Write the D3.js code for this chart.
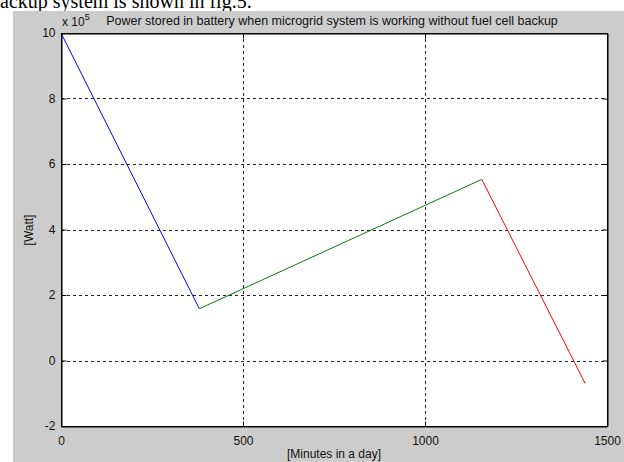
<!DOCTYPE html>
<html><head><meta charset="utf-8">
<script src="https://cdn.jsdelivr.net/npm/d3@7"></script>
<style>html,body{margin:0;padding:0;background:#fff;overflow:hidden}</style>
</head><body>
<svg id="c" width="624" height="462"></svg>
<script>
const xTicks = [0, 500, 1000, 1500];
const yTicks = [-2, 0, 2, 4, 6, 8, 10];
const blueX = [0, 380];
const blueY = [10, 1.58];
const greenX = [380, 1156];
const greenY = [1.58, 5.53];
const redX = [1156, 1440];
const redY = [5.53, -0.70];
const title = "Power stored in battery when microgrid system is working without fuel cell backup";
const xLabel = "[Minutes in a day]";
const yLabel = "[Watt]";
const caption = "backup system is shown in fig.5.";

const svg = d3.select("#c");
const L = 61, R = 607, T = 33, B = 426;
const x = d3.scaleLinear().domain([0, 1500]).range([L, R]);
const y = d3.scaleLinear().domain([-2, 10]).range([B, T]);
const fmt = v => String(v);

svg.append("rect").attr("x", 0).attr("y", 0).attr("width", 624).attr("height", 462).attr("fill", "#fff");
svg.append("text").attr("x", -10).attr("y", 8).attr("font-family", "Liberation Serif, Times New Roman, serif")
  .attr("font-size", 20).attr("fill", "#000").text(caption);
svg.append("rect").attr("x", 13).attr("y", 11).attr("width", 611).attr("height", 451).attr("fill", "#cccccc");
svg.append("rect").attr("x", L).attr("y", T).attr("width", R - L).attr("height", B - T).attr("fill", "#fff");

// grid
const grid = svg.append("g").attr("stroke", "#222").attr("stroke-width", 1).attr("stroke-dasharray", "3,3");
xTicks.filter(v => v > 0 && v < 1500).forEach(v => {
  grid.append("line").attr("x1", Math.round(x(v)) + 0.5).attr("x2", Math.round(x(v)) + 0.5).attr("y1", T).attr("y2", B);
});
yTicks.filter(v => v > -2 && v < 10).forEach(v => {
  grid.append("line").attr("y1", Math.round(y(v)) + 0.5).attr("y2", Math.round(y(v)) + 0.5).attr("x1", L).attr("x2", R);
});

// data lines
const line = d3.line().x(d => x(d[0])).y(d => y(d[1]));
function seg(xs, ys, col) {
  svg.append("path").datum(xs.map((v, i) => [v, ys[i]])).attr("d", line)
    .attr("fill", "none").attr("stroke", col).attr("stroke-width", 1);
}
seg(blueX, blueY, "#0000ff");
seg(greenX, greenY, "#008000");
seg(redX, redY, "#ff0000");

// axes
const font = "Liberation Sans, Arial, sans-serif";
svg.append("g").attr("transform", `translate(0,${B + 0.5})`)
  .call(d3.axisBottom(x).tickValues(xTicks).tickSize(-5).tickPadding(10).tickFormat(fmt));
svg.append("g").attr("transform", `translate(${L + 0.5},0)`)
  .call(d3.axisLeft(y).tickValues(yTicks).tickSize(-5).tickPadding(6).tickFormat(fmt));
svg.append("g").attr("transform", `translate(0,${T + 0.5})`)
  .call(d3.axisTop(x).tickValues(xTicks).tickSize(-5).tickFormat(""));
svg.append("g").attr("transform", `translate(${R + 0.5},0)`)
  .call(d3.axisRight(y).tickValues(yTicks).tickSize(-5).tickFormat(""));
svg.selectAll(".domain").attr("stroke", "#000");
svg.selectAll(".tick line").attr("stroke", "#000");
svg.selectAll(".tick text").attr("font-family", font).attr("font-size", 12).attr("fill", "#111");

svg.append("rect").attr("x", L + 0.5).attr("y", T + 0.5).attr("width", R - L).attr("height", B - T)
  .attr("fill", "none").attr("stroke", "#000");

// texts
svg.append("text").attr("x", 332).attr("y", 25).attr("text-anchor", "middle").attr("font-family", font)
  .attr("font-size", 12.5).attr("fill", "#111").text(title);
const xt = svg.append("text").attr("x", 62).attr("y", 26).attr("font-family", font).attr("font-size", 12).attr("fill", "#111");
xt.append("tspan").text("x 10");
xt.append("tspan").attr("dy", -6).attr("font-size", 9).text("5");
svg.append("text").attr("x", 334).attr("y", 458).attr("text-anchor", "middle").attr("font-family", font)
  .attr("font-size", 12).attr("fill", "#111").text(xLabel);
svg.append("text").attr("transform", "translate(33,230) rotate(-90)").attr("text-anchor", "middle")
  .attr("font-family", font).attr("font-size", 12).attr("fill", "#111").text(yLabel);
</script>
</body></html>
